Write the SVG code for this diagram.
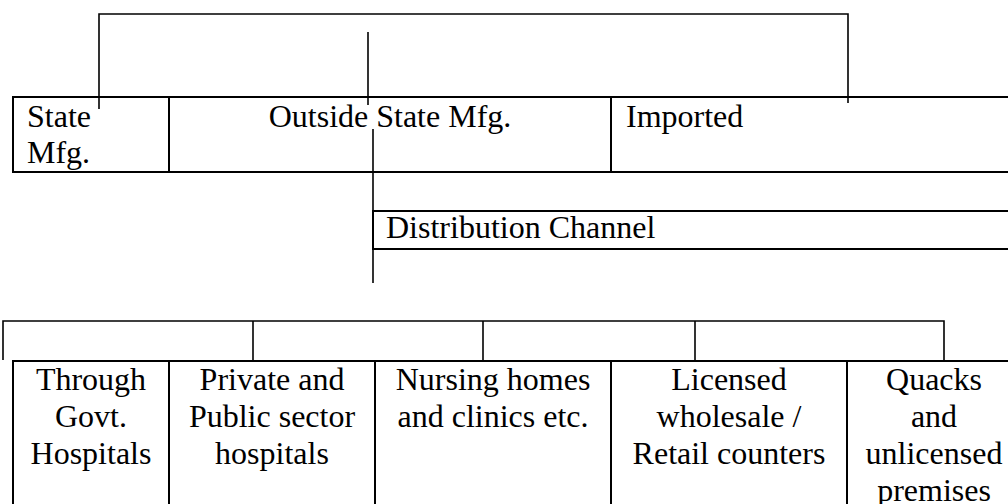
<svg xmlns="http://www.w3.org/2000/svg" width="1008" height="504" viewBox="0 0 1008 504">
<style>
  .cell { fill: #ffffff; stroke: #000000; stroke-width: 2; }
  .conn { fill: none; stroke: #000000; stroke-width: 1.6; }
  .t { font-family: "Liberation Serif", "Times New Roman", serif; font-size: 32px; fill: #000000; }
  .c { text-anchor: middle; }
</style>
<rect x="0" y="0" width="1008" height="504" fill="#ffffff"/>

<g id="top-row">
  <g id="state-mfg">
    <rect class="cell" x="13" y="97" width="156" height="75"/>
    <text class="t" x="27" y="127">State</text>
    <text class="t" x="27" y="163">Mfg.</text>
  </g>
  <g id="outside-state-mfg">
    <rect class="cell" x="169" y="97" width="442" height="75"/>
    <text class="t c" x="390" y="127">Outside State Mfg.</text>
  </g>
  <g id="imported">
    <rect class="cell" x="611" y="97" width="410" height="75"/>
    <text class="t" x="626" y="127">Imported</text>
  </g>
</g>

<g id="distribution-channel">
  <rect class="cell" x="373" y="211" width="660" height="38"/>
  <text class="t" x="386" y="238">Distribution Channel</text>
</g>

<g id="bottom-row">
  <g id="govt-hospitals">
    <rect class="cell" x="13" y="361" width="156" height="170"/>
    <text class="t c" x="91" y="390">Through</text>
    <text class="t c" x="91" y="427">Govt.</text>
    <text class="t c" x="91" y="464">Hospitals</text>
  </g>
  <g id="private-public-hospitals">
    <rect class="cell" x="169" y="361" width="206" height="170"/>
    <text class="t c" x="272" y="390">Private and</text>
    <text class="t c" x="272" y="427">Public sector</text>
    <text class="t c" x="272" y="464">hospitals</text>
  </g>
  <g id="nursing-homes">
    <rect class="cell" x="375" y="361" width="236" height="170"/>
    <text class="t c" x="493" y="390">Nursing homes</text>
    <text class="t c" x="493" y="427">and clinics etc.</text>
  </g>
  <g id="licensed-counters">
    <rect class="cell" x="611" y="361" width="236" height="170"/>
    <text class="t c" x="729" y="390">Licensed</text>
    <text class="t c" x="729" y="427">wholesale /</text>
    <text class="t c" x="729" y="464">Retail counters</text>
  </g>
  <g id="quacks">
    <rect class="cell" x="847" y="361" width="174" height="170"/>
    <text class="t c" x="934" y="390">Quacks</text>
    <text class="t c" x="934" y="427">and</text>
    <text class="t c" x="934" y="464">unlicensed</text>
    <text class="t c" x="934" y="501">premises</text>
  </g>
</g>

<g id="connectors">
  <path class="conn" d="M99,109 V14 H848 V103"/>
  <path class="conn" d="M368,32 V105"/>
  <path class="conn" d="M373,129 V283"/>
  <path class="conn" d="M3,360 V321 H944 V360"/>
  <path class="conn" d="M253,321 V361"/>
  <path class="conn" d="M483,321 V361"/>
  <path class="conn" d="M695,321 V361"/>
</g>
</svg>
